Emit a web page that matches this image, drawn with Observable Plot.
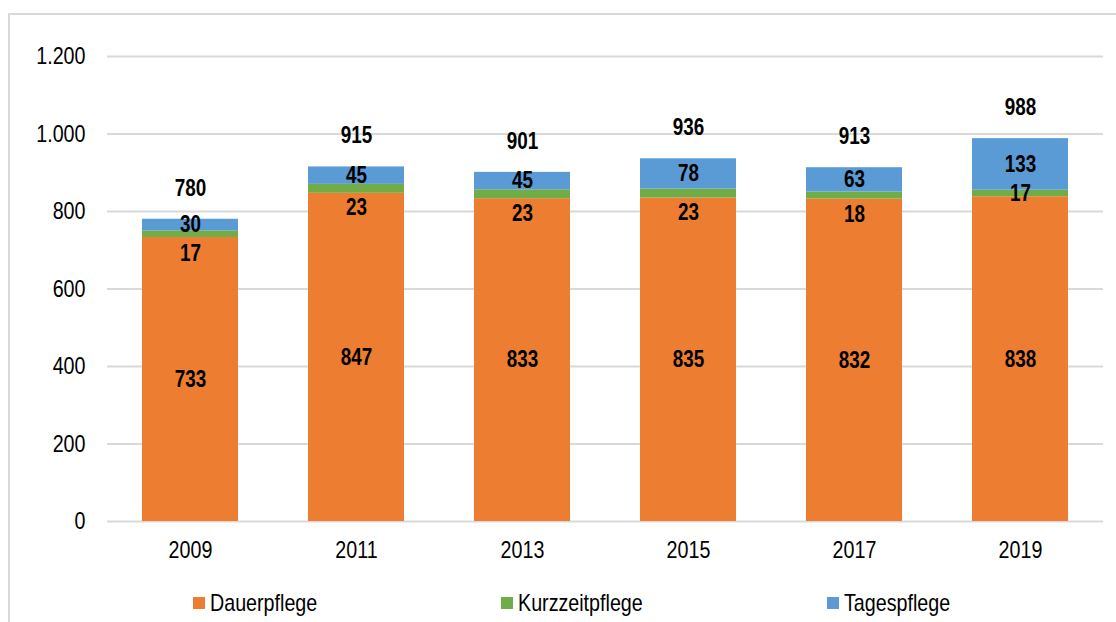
<!DOCTYPE html>
<html>
<head>
<meta charset="utf-8">
<script src="https://cdn.jsdelivr.net/npm/d3@7"></script>
<script src="https://cdn.jsdelivr.net/npm/@observablehq/plot@0.6"></script>
<style>
  html, body { margin: 0; padding: 0; background: #fff; width: 1116px; height: 622px; overflow: hidden; }
  #frame { position: absolute; left: 8px; top: 13px; width: 1130px; height: 640px; border: 2px solid #d9d9d9; box-sizing: border-box; }
  #chart { position: absolute; left: 0; top: 0; }
  #legend { position: absolute; top: 591px; left: 0; width: 1116px; height: 24px; font-family: "Liberation Sans", Arial, sans-serif; font-size: 24px; color: #000; }
  .item { position: absolute; top: 0; height: 24px; }
  .sw { position: absolute; left: 0; top: 6px; width: 12px; height: 12px; }
  .lbl { position: absolute; left: 17px; top: -2px; white-space: nowrap; transform: scaleX(0.82); transform-origin: 0 50%; line-height: 28px; }
</style>
</head>
<body>
<div id="frame"></div>
<div id="chart"></div>
<div id="legend"></div>
<script>
const years = ["2009", "2011", "2013", "2015", "2017", "2019"];
const dauerpflege = [733, 847, 833, 835, 832, 838];
const kurzzeitpflege = [17, 23, 23, 23, 18, 17];
const tagespflege = [30, 45, 45, 78, 63, 133];
const totals = [780, 915, 901, 936, 913, 988];
const seriesNames = ["Dauerpflege", "Kurzzeitpflege", "Tagespflege"];
const seriesColors = ["#ED7D31", "#70AD47", "#5B9BD5"];
const yTicks = [0, 200, 400, 600, 800, 1000, 1200];
const yTickLabels = ["0", "200", "400", "600", "800", "1.000", "1.200"];
// years whose Kurzzeitpflege label sits below the thin green segment
const kurzLabelBelow = ["2009", "2011", "2013", "2015", "2017"];

const seriesValues = [dauerpflege, kurzzeitpflege, tagespflege];
const rows = [];
const labels = [];
years.forEach((yr, i) => {
  let base = 0;
  seriesNames.forEach((s, j) => {
    const v = seriesValues[j][i];
    rows.push({year: yr, series: s, value: v});
    labels.push({year: yr, series: s, value: v, mid: base + v / 2});
    base += v;
  });
});
const totalRows = years.map((yr, i) => ({year: yr, total: totals[i]}));

const font = '"Liberation Sans", Arial, sans-serif';

const chart = Plot.plot({
  width: 1116,
  height: 570,
  marginTop: 56,
  marginBottom: 49,
  marginLeft: 107,
  marginRight: 13,
  style: {fontFamily: font, fontSize: "24px", color: "#000", background: "transparent"},
  x: {domain: years, paddingInner: 0.42, paddingOuter: 0.21, label: null},
  y: {domain: [0, 1200], label: null},
  color: {domain: seriesNames, range: seriesColors},
  marks: [
    Plot.gridY(yTicks, {stroke: "#d9d9d9", strokeOpacity: 1, strokeWidth: 2}),
    Plot.axisY(yTicks, {tickSize: 0, tickPadding: 22, tickFormat: (d) => yTickLabels[yTicks.indexOf(d)], label: null, fontSize: 24}),
    Plot.axisX({tickSize: 0, tickPadding: 19, label: null, fontSize: 24}),
    Plot.barY(rows, Plot.stackY({x: "year", y: "value", fill: "series", order: seriesNames})),
    Plot.text(labels.filter(d => !(d.series === "Kurzzeitpflege" && kurzLabelBelow.includes(d.year))), {
      x: "year", y: "mid", text: "value", fill: "#000", fontWeight: "bold", fontSize: 23, lineAnchor: "middle"
    }),
    Plot.text(labels.filter(d => d.series === "Kurzzeitpflege" && kurzLabelBelow.includes(d.year)), {
      x: "year", y: "mid", text: "value", fill: "#000", fontWeight: "bold", fontSize: 23, lineAnchor: "middle", dy: 19
    }),
    Plot.text(totalRows, {x: "year", y: "total", text: "total", fill: "#000", fontWeight: "bold", fontSize: 23, dy: -31, lineAnchor: "middle"})
  ]
});
document.getElementById("chart").appendChild(chart);

// condense glyphs to mimic a narrow typeface
chart.querySelectorAll("text").forEach((t) => {
  const len = t.getComputedTextLength();
  if (len > 0) {
    t.setAttribute("textLength", (len * 0.82).toFixed(2));
    t.setAttribute("lengthAdjust", "spacingAndGlyphs");
  }
});

// legend
const legendX = [193, 501, 827];
const legend = document.getElementById("legend");
seriesNames.forEach((s, i) => {
  const item = document.createElement("div");
  item.className = "item";
  item.style.left = legendX[i] + "px";
  const sw = document.createElement("div");
  sw.className = "sw";
  sw.style.background = seriesColors[i];
  const lbl = document.createElement("span");
  lbl.className = "lbl";
  lbl.textContent = s;
  item.appendChild(sw);
  item.appendChild(lbl);
  legend.appendChild(item);
});
</script>
</body>
</html>
